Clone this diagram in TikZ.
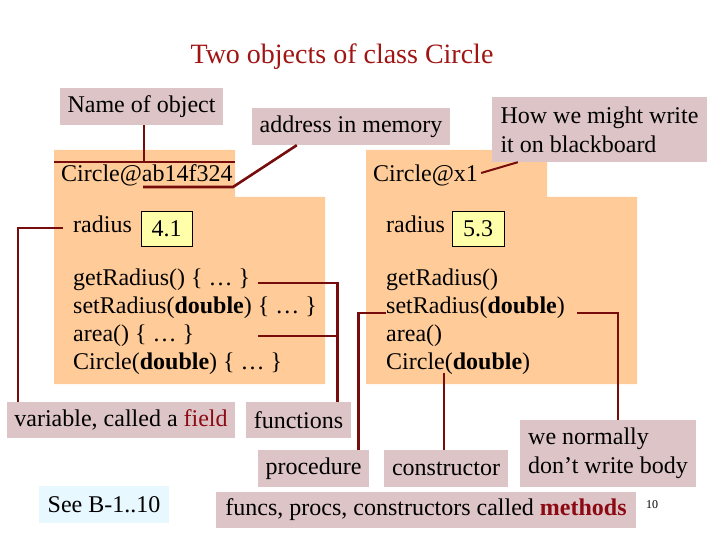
\documentclass[tikz,border=0pt]{standalone}
\usepackage{fontspec}
\setmainfont{Liberation Serif}
\definecolor{lblpink}{RGB}{221,196,199}
\definecolor{objorange}{RGB}{255,204,153}
\definecolor{connred}{RGB}{118,12,12}
\definecolor{titlered}{RGB}{160,20,20}
\definecolor{wordred}{RGB}{140,10,20}
\definecolor{valyellow}{RGB}{255,255,170}
\definecolor{seeblue}{RGB}{232,248,255}
\begin{document}
\begin{tikzpicture}[x=1pt,y=-1pt,
  every node/.style={font=\fontsize{24}{29}\selectfont, inner sep=0pt},
  lbl/.style={fill=lblpink, align=left},
  conn/.style={draw=connred, line width=2.6pt},
  txt/.style={anchor=base west},
  val/.style={draw=black, line width=0.8pt, fill=valyellow, minimum width=51pt, minimum height=35pt}]
\useasboundingbox (0,0) rectangle (720,540);
\node[font=\fontsize{28}{32}\selectfont, text=titlered, anchor=base] (title) at (342,64) {Two objects of class Circle};

% object shapes
\fill[objorange] (54,150) -- (235,150) -- (235,197) -- (325,197) -- (325,384) -- (54,384) -- cycle;
\fill[objorange] (366,150) -- (547,150) -- (547,197) -- (637,197) -- (637,384) -- (366,384) -- cycle;

% labels at top
\node[lbl, minimum width=163pt, minimum height=37pt] (nameobj) at (141.5,106.5) {Name of object};
\node[lbl, minimum width=198pt, minimum height=37pt] (addr) at (351,126.5) {address in memory};
\node[lbl, minimum width=215pt, minimum height=65pt] (bb) at (599.5,129.5) {How we might write\\it on blackboard};

% object names
\node[txt] (lname) at (61,182) {Circle@ab14f324};
\node[txt] (rname) at (373,182) {Circle@x1};

% fields
\node[txt] (lrad) at (73,233) {radius};
\node[val] (lval) at (166.5,228.5) {4.1};
\node[txt] (rrad) at (386,233) {radius};
\node[val, minimum width=52pt] (rval) at (478,228.5) {5.3};

% methods left
\node[txt] (lget) at (73,285) {getRadius() \{ … \}};
\node[txt] (lset) at (73,313) {setRadius(\textbf{double}) \{ … \}};
\node[txt] (larea) at (73,341) {area() \{ … \}};
\node[txt] (lcirc) at (73,369) {Circle(\textbf{double}) \{ … \}};

% methods right
\node[txt] (rget) at (386,285) {getRadius()};
\node[txt] (rset) at (386,313) {setRadius(\textbf{double})};
\node[txt] (rarea) at (386,341) {area()};
\node[txt] (rcirc) at (386,369) {Circle(\textbf{double})};

% bottom labels
\node[lbl, minimum width=228pt, minimum height=36pt] (field) at (121,420) {variable, called a \textcolor{wordred}{field}};
\node[lbl, minimum width=105pt, minimum height=36pt] (func) at (298.5,420) {functions};
\node[lbl, minimum width=111pt, minimum height=37pt] (proc) at (313.5,468.5) {procedure};
\node[lbl, minimum width=124pt, minimum height=37pt] (constr) at (446,468.5) {constructor};
\node[lbl, minimum width=176pt, minimum height=67pt] (wn) at (608,453.5) {we normally\\don’t write body};
\node[fill=seeblue, minimum width=130pt, minimum height=37pt] (see) at (104,504.5) {See B-1..10};
\node[lbl, minimum width=420pt, minimum height=36pt] (meth) at (426,510) {funcs, procs, constructors called \textcolor{wordred}{\textbf{methods}}};
\node[font=\fontsize{12}{14}\selectfont] (pg) at (652,505) {10};

% connectors
\draw[conn] ([xshift=2.5pt]nameobj.south) -- ++(0,37);
\draw[conn] (54,162) -- (235,162);
\coordinate (ulL) at (143,187);
\coordinate (ulR) at (233,187);
\draw[conn] (ulL) -- (ulR) -- ([xshift=45pt]addr.south west);
\draw[connred, line width=2pt] ([xshift=3pt,yshift=9pt]rname.base east) -- ([xshift=26pt]bb.south west);

\draw[conn] ([xshift=-10pt,yshift=5pt]lrad.base west) -| ([xshift=11pt]field.north west);
\coordinate (getL) at (258,283);
\coordinate (areaL) at (258,336);
\draw[conn] (getL) -| ([xshift=-14pt]func.north east);
\draw[conn] (areaL) -- ++(79,0);

\draw[conn] (rset.base west) -| ([xshift=-11pt]proc.north east);
\coordinate (rsetR) at (577,313);
\draw[conn] (rsetR) -| ([xshift=98pt]wn.north west);
\coordinate (rcircB) at (444,373);
\draw[conn] (rcircB) -- (rcircB |- constr.north);
\end{tikzpicture}
\end{document}
